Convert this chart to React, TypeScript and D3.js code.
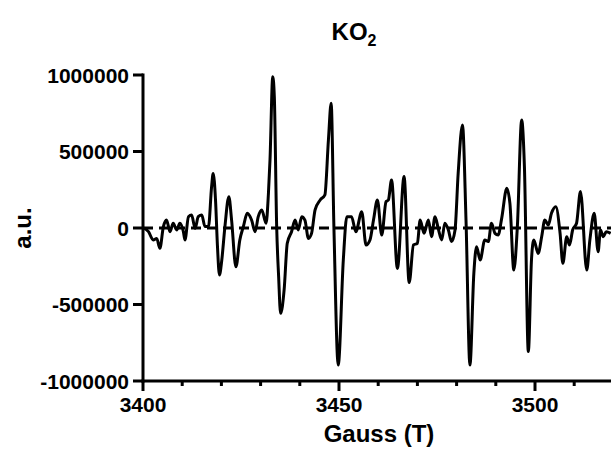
import React from "react";
import * as d3 from "d3";

const gauss: number[] = [
  3400.1, 3401.4, 3402.6, 3403.5, 3404.3, 3405.2, 3406.0, 3406.9, 3407.7, 3408.6,
  3409.4, 3410.3, 3410.7, 3411.6, 3412.4, 3413.3, 3414.1, 3415.0, 3415.8, 3416.7,
  3417.5, 3417.9, 3418.5, 3419.0, 3419.5, 3420.1, 3420.9, 3421.9, 3422.6, 3423.7,
  3424.7, 3425.6, 3426.6, 3427.7, 3428.6, 3429.4, 3430.3, 3431.4, 3432.0, 3432.4,
  3433.1, 3433.5, 3434.1, 3434.6, 3435.1, 3436.0, 3436.8, 3437.9, 3438.8, 3439.6,
  3440.5, 3441.3, 3442.2, 3443.0, 3443.9, 3445.2, 3446.4, 3447.3, 3448.0, 3448.7,
  3449.8, 3451.1, 3452.0, 3453.2, 3454.3, 3455.8, 3456.9, 3457.9, 3458.8, 3459.8,
  3460.9, 3462.0, 3462.6, 3463.4, 3464.9, 3466.6, 3467.9, 3469.0, 3470.0, 3470.7,
  3471.7, 3472.8, 3473.6, 3474.5, 3475.3, 3476.2, 3477.0, 3477.9, 3478.7, 3479.6,
  3480.4, 3481.5, 3482.4, 3483.4, 3484.4, 3485.1, 3486.0, 3487.2, 3488.1, 3488.9,
  3489.8, 3490.6, 3491.5, 3492.8, 3493.6, 3494.6, 3495.5, 3496.6, 3497.3, 3498.3,
  3499.1, 3499.7, 3500.8, 3501.7, 3502.5, 3503.4, 3504.2, 3505.3, 3506.4, 3507.1,
  3508.1, 3508.8, 3509.6, 3510.6, 3511.6, 3513.2, 3514.0, 3515.1, 3516.1, 3516.7,
  3517.4, 3518.2, 3519.3,
];

const signal: number[] = [
  0, -24000, -78000, -68000, -133000, 9000, 52000, -24000, 31000, -13000,
  31000, -24000, -78000, 74000, 85000, -2000, 74000, 85000, 9000, 9000,
  270000, 357000, 183000, -122000, -307000, -209000, 9000, 205000, 52000, -253000,
  -78000, 9000, 96000, 52000, -24000, 74000, 118000, 31000, 227000, 445000,
  989000, 859000, 9000, -318000, -558000, -405000, -100000, -24000, 52000, -13000,
  74000, 52000, -68000, -35000, 118000, 183000, 216000, 575000, 815000, 9000,
  -896000, -209000, 74000, 74000, -24000, 107000, -111000, -78000, 52000, 183000,
  -46000, 172000, 183000, 314000, -264000, 336000, -357000, -111000, -100000, 52000,
  -35000, 52000, -57000, 74000, -2000, -78000, 31000, -13000, -89000, -13000,
  357000, 673000, 52000, -896000, -296000, -122000, -209000, -78000, -89000, 31000,
  -35000, -46000, 63000, 259000, 161000, -275000, 9000, 706000, 401000, -808000,
  -209000, -78000, -166000, -57000, 52000, 20000, 96000, 139000, -35000, -231000,
  -57000, -111000, -13000, 31000, 238000, -275000, -78000, 96000, -155000, -13000,
  -57000, -24000, -35000,
];

const xTicks: number[] = [3400, 3410, 3420, 3430, 3440, 3450, 3460, 3470, 3480, 3490, 3500, 3510, 3520];
const xLabels: number[] = [3400, 3450, 3500];
const yTicks: number[] = [-1000000, -500000, 0, 500000, 1000000];

const W = 611;
const H = 450;
const FONT = "'Liberation Sans', Arial, sans-serif";

export default function App() {
  const x = d3.scaleLinear().domain([3400, 3500]).range([143, 535]);
  const y = d3.scaleLinear().domain([-1000000, 1000000]).range([381, 75]);
  const pts = gauss.map((g, i) => [g, signal[i]] as [number, number]);
  const line = d3
    .line<[number, number]>()
    .x((d) => x(d[0]))
    .y((d) => y(d[1]))
    .curve(d3.curveMonotoneX);
  const x0 = x(3400);
  const yBase = y(-1000000);

  return (
    <svg width={W} height={H} style={{ position: "absolute", left: 0, top: 0 }}>
      <rect width={W} height={H} fill="#fff" />
      <text x={354} y={40} textAnchor="middle" fontFamily={FONT} fontWeight="bold" fontSize={24}>
        KO<tspan fontSize={16} dy={6}>2</tspan>
      </text>
      {/* zero dashed line */}
      <line x1={x0} x2={W} y1={y(0)} y2={y(0)} stroke="#000" strokeWidth={3} strokeDasharray="10,6" />
      {/* data */}
      <path d={line(pts) || ""} fill="none" stroke="#000" strokeWidth={3} strokeLinejoin="round" />
      {/* y axis */}
      <line x1={x0} x2={x0} y1={y(1000000) - 1.5} y2={yBase + 1.5} stroke="#000" strokeWidth={3} />
      {yTicks.map((t) => (
        <g key={t}>
          <line x1={x0 - 10} x2={x0} y1={y(t)} y2={y(t)} stroke="#000" strokeWidth={3} />
          <text x={x0 - 14} y={y(t)} dy="0.36em" textAnchor="end" fontFamily={FONT} fontWeight="bold" fontSize={21}>
            {t}
          </text>
        </g>
      ))}
      {/* x axis */}
      <line x1={x0 - 1.5} x2={W} y1={yBase} y2={yBase} stroke="#000" strokeWidth={3} />
      {xTicks.map((t) => {
        const major = xLabels.includes(t);
        return (
          <g key={t}>
            <line x1={x(t)} x2={x(t)} y1={yBase} y2={yBase + (major ? 10 : 5)} stroke="#000" strokeWidth={3} />
            {major && (
              <text x={x(t)} y={yBase + 31} textAnchor="middle" fontFamily={FONT} fontWeight="bold" fontSize={21}>
                {t}
              </text>
            )}
          </g>
        );
      })}
      <text x={379} y={442} textAnchor="middle" fontFamily={FONT} fontWeight="bold" fontSize={24}>
        Gauss (T)
      </text>
      <text
        transform={`translate(31, ${y(0)}) rotate(-90)`}
        textAnchor="middle"
        fontFamily={FONT}
        fontWeight="bold"
        fontSize={24}
      >
        a.u.
      </text>
    </svg>
  );
}
